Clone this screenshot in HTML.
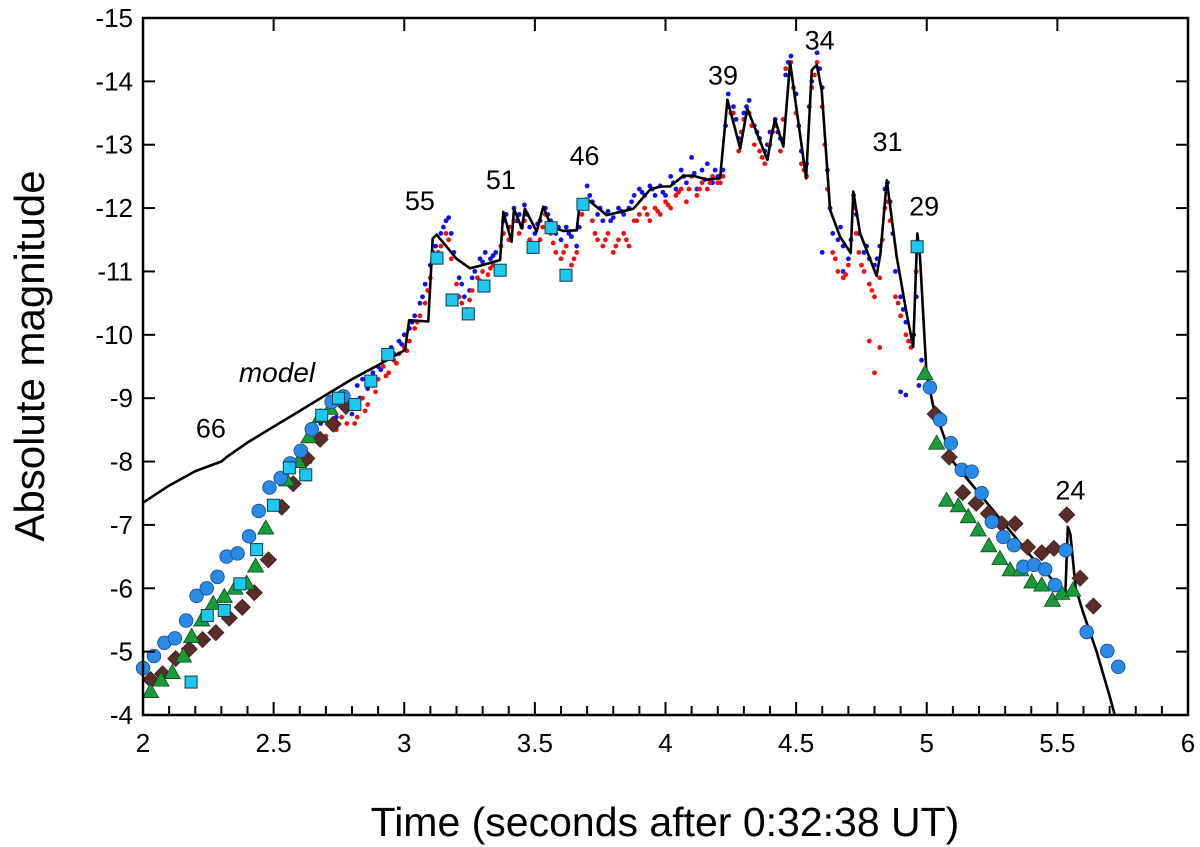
<!DOCTYPE html>
<html><head><meta charset="utf-8"><style>
body{margin:0;background:#fff}
svg{display:block;font-family:"Liberation Sans",sans-serif}
</style></head><body>
<svg id="chart" width="1200" height="847" viewBox="0 0 1200 847">
<g id="marks"></g>
<g id="axes"></g>
</svg>
<script>
const xTicks=[2,2.5,3,3.5,4,4.5,5,5.5,6];
const xTickLabels=["2","2.5","3","3.5","4","4.5","5","5.5","6"];
const yTicks=[-15,-14,-13,-12,-11,-10,-9,-8,-7,-6,-5,-4];
const yTickLabels=["-15","-14","-13","-12","-11","-10","-9","-8","-7","-6","-5","-4"];
const modelT=[2.0,2.1,2.2,2.3,2.32,2.4,2.5,2.6,2.7,2.8,2.9,3.003,3.019,3.092,3.109,3.124,3.162,3.2,3.252,3.3,3.367,3.379,3.411,3.42,3.45,3.462,3.507,3.532,3.564,3.609,3.66,3.673,3.698,3.775,3.877,3.941,3.979,4.017,4.068,4.106,4.158,4.209,4.237,4.286,4.313,4.39,4.406,4.419,4.451,4.477,4.538,4.56,4.579,4.598,4.63,4.668,4.709,4.719,4.745,4.808,4.823,4.847,4.885,4.923,4.948,4.964,4.974,4.999,5.025,5.1,5.2,5.3,5.4,5.5,5.53,5.54,5.55,5.57,5.6,5.65,5.7,5.72];
const modelM=[-7.35,-7.62,-7.85,-8.0,-8.07,-8.3,-8.55,-8.8,-9.05,-9.3,-9.52,-9.76,-10.23,-10.21,-11.52,-11.58,-11.39,-11.2,-11.05,-11.1,-11.18,-11.94,-11.47,-11.99,-11.68,-11.99,-11.63,-12.02,-11.7,-11.64,-11.65,-12.13,-12.15,-11.89,-11.99,-12.29,-12.34,-12.34,-12.51,-12.51,-12.45,-12.47,-13.71,-12.94,-13.57,-12.76,-13.15,-13.4,-12.97,-14.3,-12.47,-14.18,-14.26,-13.86,-11.97,-11.55,-11.29,-12.26,-11.6,-10.93,-11.29,-12.44,-11.23,-10.34,-9.81,-11.6,-11.23,-9.39,-8.87,-8.0,-7.5,-7.0,-6.5,-6.05,-5.85,-6.97,-6.85,-6.0,-5.6,-5.0,-4.3,-4.0];
const blueDots=[[2.68,-8.6],[2.72,-8.8],[2.74,-8.7],[2.77,-9.1],[2.79,-8.9],[2.8,-8.75],[2.82,-9.2],[2.84,-9.3],[2.86,-9.15],[2.88,-9.4],[2.9,-9.5],[2.92,-9.6],[2.94,-9.75],[2.96,-9.7],[2.98,-9.9],[3.0,-10.0],[3.02,-10.1],[3.04,-10.3],[3.06,-10.5],[3.08,-10.8],[3.1,-11.1],[3.12,-11.4],[3.14,-11.6],[3.16,-11.8],[3.17,-11.85],[3.19,-11.3],[3.21,-10.9],[3.23,-10.6],[3.25,-10.7],[3.27,-11.0],[3.29,-11.2],[3.31,-11.3],[3.33,-11.2],[3.35,-11.3],[3.38,-11.8],[3.4,-11.7],[3.42,-12.0],[3.44,-11.9],[3.46,-12.05],[3.48,-11.7],[3.5,-11.6],[3.52,-11.8],[3.54,-12.0],[3.56,-11.8],[3.58,-11.6],[3.6,-11.5],[3.62,-11.7],[3.64,-11.55],[3.66,-11.4],[3.68,-12.0],[3.7,-12.35],[3.72,-12.1],[3.74,-11.9],[3.76,-11.8],[3.78,-11.95],[3.8,-11.85],[3.82,-12.0],[3.84,-11.9],[3.86,-12.0],[3.88,-12.2],[3.9,-12.3],[3.92,-12.2],[3.94,-12.35],[3.96,-12.2],[3.98,-12.35],[4.0,-12.2],[4.02,-12.5],[4.04,-12.3],[4.06,-12.6],[4.08,-12.4],[4.1,-12.8],[4.12,-12.3],[4.14,-12.6],[4.16,-12.7],[4.18,-12.4],[4.2,-12.5],[4.22,-12.6],[4.24,-13.8],[4.26,-13.6],[4.28,-13.1],[4.3,-13.5],[4.32,-13.7],[4.34,-13.3],[4.36,-13.1],[4.38,-12.9],[4.4,-13.2],[4.42,-13.4],[4.44,-13.1],[4.46,-14.1],[4.48,-14.4],[4.5,-13.8],[4.52,-12.9],[4.54,-12.7],[4.56,-14.0],[4.58,-14.45],[4.6,-13.9],[4.62,-12.6],[4.64,-11.6],[4.66,-11.5],[4.68,-11.4],[4.7,-11.2],[4.72,-12.2],[4.74,-11.6],[4.76,-11.3],[4.78,-11.2],[4.8,-11.1],[4.82,-11.4],[4.84,-12.3],[4.86,-12.1],[4.88,-11.0],[4.9,-10.6],[4.92,-10.2],[4.94,-9.9],[4.96,-10.6],[4.97,-9.2],[4.98,-9.6],[4.9,-9.1],[4.92,-9.05],[4.68,-11.0],[4.6,-11.3],
[2.83,-9.0],[2.87,-9.3],[2.91,-9.45],[2.95,-9.8],[2.99,-9.85],[3.03,-10.2],[3.07,-10.6],[3.11,-11.3],[3.15,-11.7],[3.18,-11.6],[3.22,-10.8],[3.26,-10.9],[3.3,-11.15],[3.34,-11.25],[3.39,-11.9],[3.43,-11.8],[3.47,-11.9],[3.51,-11.75],[3.55,-11.9],[3.59,-11.7],[3.63,-11.6],[3.67,-11.7],[3.71,-12.2],[3.75,-12.0],[3.79,-11.8],[3.83,-11.95],[3.87,-12.1],[3.91,-12.25],[3.95,-12.3],[3.99,-12.25],[4.03,-12.4],[4.07,-12.5],[4.11,-12.55],[4.15,-12.45],[4.19,-12.6],[4.23,-13.3],[4.27,-13.4],[4.31,-13.6],[4.35,-13.2],[4.39,-13.0],[4.43,-13.2],[4.47,-14.3],[4.51,-13.3],[4.55,-13.6],[4.59,-14.2],[4.63,-12.0],[4.67,-11.7],[4.71,-11.5],[4.73,-11.9],[4.77,-11.4],[4.81,-11.2],[4.85,-12.4],[4.87,-11.6],[4.91,-10.4],[4.95,-10.0]];
const redDots=[[2.64,-8.0],[2.7,-8.4],[2.74,-8.5],[2.76,-8.7],[2.78,-8.6],[2.8,-8.9],[2.82,-8.7],[2.84,-9.0],[2.86,-8.9],[2.88,-9.2],[2.9,-9.3],[2.92,-9.5],[2.94,-9.4],[2.96,-9.6],[2.98,-9.7],[3.0,-9.8],[3.02,-9.9],[3.04,-10.1],[3.06,-10.3],[3.08,-10.5],[3.1,-10.9],[3.12,-11.2],[3.14,-11.4],[3.16,-11.6],[3.18,-11.2],[3.2,-10.8],[3.22,-10.5],[3.24,-10.4],[3.26,-10.7],[3.28,-10.9],[3.3,-11.0],[3.32,-10.95],[3.34,-11.1],[3.36,-11.0],[3.38,-11.6],[3.4,-11.5],[3.42,-11.8],[3.44,-11.6],[3.46,-11.8],[3.48,-11.5],[3.5,-11.4],[3.52,-11.5],[3.54,-11.9],[3.56,-11.6],[3.58,-11.3],[3.6,-11.2],[3.62,-11.4],[3.64,-11.1],[3.66,-11.3],[3.68,-11.9],[3.7,-12.1],[3.72,-11.8],[3.74,-11.5],[3.76,-11.4],[3.78,-11.6],[3.8,-11.3],[3.82,-11.5],[3.84,-11.6],[3.86,-11.4],[3.88,-11.8],[3.9,-11.9],[3.92,-12.0],[3.94,-11.8],[3.96,-12.0],[3.98,-11.9],[4.0,-12.1],[4.02,-12.0],[4.04,-12.2],[4.06,-12.3],[4.08,-12.1],[4.1,-12.5],[4.12,-12.2],[4.14,-12.4],[4.16,-12.3],[4.18,-12.5],[4.2,-12.4],[4.22,-12.5],[4.24,-13.6],[4.26,-13.5],[4.28,-12.9],[4.3,-13.4],[4.32,-13.5],[4.34,-13.0],[4.36,-12.9],[4.38,-12.7],[4.4,-13.0],[4.42,-13.3],[4.44,-12.9],[4.46,-14.2],[4.48,-14.3],[4.5,-13.5],[4.52,-12.7],[4.54,-12.5],[4.56,-13.9],[4.58,-14.3],[4.6,-13.6],[4.62,-12.3],[4.64,-11.3],[4.66,-11.0],[4.68,-10.9],[4.7,-11.1],[4.72,-12.0],[4.74,-11.3],[4.76,-11.0],[4.78,-10.8],[4.8,-10.6],[4.82,-10.9],[4.84,-12.0],[4.86,-11.8],[4.88,-10.6],[4.9,-10.3],[4.92,-10.0],[4.94,-9.8],[4.96,-11.0],[4.78,-9.9],[4.8,-9.4],[4.82,-9.8],
[2.81,-8.6],[2.85,-8.8],[2.89,-9.1],[2.93,-9.35],[2.97,-9.55],[3.01,-9.75],[3.05,-10.2],[3.09,-10.7],[3.13,-11.3],[3.17,-11.5],[3.21,-10.6],[3.25,-10.55],[3.29,-10.85],[3.33,-11.05],[3.37,-11.4],[3.41,-11.7],[3.45,-11.7],[3.49,-11.45],[3.53,-11.7],[3.57,-11.45],[3.61,-11.3],[3.65,-11.2],[3.69,-12.0],[3.73,-11.6],[3.77,-11.5],[3.81,-11.4],[3.85,-11.5],[3.89,-11.8],[3.93,-11.9],[3.97,-11.95],[4.01,-12.05],[4.05,-12.25],[4.09,-12.3],[4.13,-12.3],[4.17,-12.4],[4.21,-12.4],[4.25,-13.5],[4.29,-13.2],[4.33,-13.3],[4.37,-12.8],[4.41,-13.2],[4.45,-13.4],[4.49,-13.9],[4.53,-12.6],[4.57,-14.1],[4.61,-13.0],[4.65,-11.2],[4.69,-10.95],[4.73,-11.6],[4.75,-11.1],[4.79,-10.7],[4.83,-11.5],[4.85,-12.1],[4.89,-10.5],[4.93,-9.9]];
const circles=[[2.0,-4.74],[2.042,-4.93],[2.082,-5.14],[2.122,-5.21],[2.165,-5.49],[2.205,-5.88],[2.244,-6.0],[2.285,-6.18],[2.32,-6.5],[2.362,-6.55],[2.406,-6.82],[2.443,-7.22],[2.484,-7.59],[2.527,-7.74],[2.563,-7.97],[2.604,-8.17],[2.646,-8.51],[2.722,-8.94],[2.767,-9.03],[5.012,-9.17],[5.051,-8.66],[5.092,-8.29],[5.134,-7.87],[5.172,-7.84],[5.21,-7.5],[5.249,-7.05],[5.293,-6.81],[5.334,-6.68],[5.37,-6.34],[5.411,-6.37],[5.453,-6.3],[5.491,-6.05],[5.532,-6.6],[5.612,-5.31],[5.691,-5.01],[5.733,-4.76]];
const triangles=[[2.029,-4.37],[2.069,-4.55],[2.112,-4.67],[2.155,-4.93],[2.186,-5.24],[2.225,-5.5],[2.269,-5.76],[2.311,-5.87],[2.352,-6.0],[2.397,-6.08],[2.431,-6.35],[2.47,-6.95],[2.55,-7.71],[2.595,-8.0],[2.635,-8.39],[2.678,-8.71],[2.716,-8.84],[4.993,-9.39],[5.038,-8.29],[5.076,-7.39],[5.121,-7.3],[5.159,-7.13],[5.197,-6.92],[5.238,-6.67],[5.28,-6.47],[5.319,-6.29],[5.36,-6.29],[5.402,-6.1],[5.44,-6.05],[5.481,-5.81],[5.517,-5.92],[5.559,-5.97]];
const diamonds=[[2.029,-4.56],[2.075,-4.65],[2.125,-4.89],[2.177,-5.04],[2.228,-5.19],[2.279,-5.3],[2.33,-5.53],[2.38,-5.7],[2.426,-5.93],[2.48,-6.45],[2.531,-7.28],[2.575,-7.65],[2.627,-8.05],[2.678,-8.35],[2.728,-8.59],[2.777,-8.87],[5.032,-8.75],[5.086,-8.07],[5.138,-7.51],[5.189,-7.34],[5.236,-7.18],[5.287,-7.02],[5.338,-7.02],[5.386,-6.65],[5.44,-6.56],[5.487,-6.63],[5.536,-7.16],[5.587,-6.16],[5.638,-5.72]];
const squares=[[2.184,-4.52],[2.246,-5.57],[2.311,-5.65],[2.371,-6.07],[2.435,-6.61],[2.499,-7.31],[2.56,-7.9],[2.623,-7.79],[2.684,-8.73],[2.748,-9.0],[2.811,-8.9],[2.872,-9.27],[2.937,-9.69],[3.125,-11.21],[3.183,-10.55],[3.245,-10.33],[3.305,-10.77],[3.367,-11.02],[3.493,-11.38],[3.562,-11.69],[3.619,-10.94],[3.684,-12.06],[4.963,-11.39]];
const peakLabels=["66","55","51","46","39","34","31","29","24"];
const peakT=[2.26,3.06,3.37,3.69,4.22,4.59,4.85,4.99,5.55];
const peakM=[-8.38,-11.97,-12.3,-12.68,-13.95,-14.5,-12.9,-11.88,-7.4];

const NS="http://www.w3.org/2000/svg";
const L=143,R=1188,T=18,B=715;
const xs=t=>L+(t-2)/4*(R-L);
const ys=m=>T+(m+15)/11*(B-T);
const marks=document.getElementById('marks'), axes=document.getElementById('axes');
function mk(tag,attrs,parent){const e=document.createElementNS(NS,tag);for(const k in attrs)e.setAttribute(k,attrs[k]);parent.appendChild(e);return e;}

blueDots.forEach(p=>{const c=mk('circle',{cx:xs(p[0]),cy:ys(p[1]),r:2.4,fill:'#1010ee'},marks);

});
redDots.forEach(p=>{const c=mk('circle',{cx:xs(p[0]),cy:ys(p[1]),r:2.4,fill:'#ee1010'},marks);

});

const d=modelT.map((t,i)=>(i?'L':'M')+xs(t).toFixed(1)+' '+ys(modelM[i]).toFixed(1)).join(' ');
const ml=mk('path',{d:d,fill:'none',stroke:'#000','stroke-width':2.6,'stroke-linejoin':'round'},marks);



diamonds.forEach(p=>{const x=xs(p[0]),y=ys(p[1]);const e=mk('path',{d:`M${x} ${y-8}L${x+8} ${y}L${x} ${y+8}L${x-8} ${y}Z`,fill:'#5a2d2a',stroke:'#3a1d1a','stroke-width':0.8},marks);

});
triangles.forEach(p=>{const x=xs(p[0]),y=ys(p[1]);const e=mk('path',{d:`M${x} ${y-8}L${x+8} ${y+6}L${x-8} ${y+6}Z`,fill:'#1a9a3a',stroke:'#0a4a1a','stroke-width':0.8},marks);

});
circles.forEach(p=>{const e=mk('circle',{cx:xs(p[0]),cy:ys(p[1]),r:6.8,fill:'#2a8ae8',stroke:'#1a4a80','stroke-width':0.8},marks);

});
squares.forEach(p=>{const e=mk('rect',{x:xs(p[0])-6,y:ys(p[1])-6,width:12,height:12,fill:'#1cc8ee',stroke:'#0a3a4a','stroke-width':1},marks);

});

peakLabels.forEach((s,i)=>{const e=mk('text',{x:xs(peakT[i]),y:ys(peakM[i]),'font-size':27,'text-anchor':'middle'},marks);e.textContent=s;

});
const mt=mk('text',{x:277,y:382,'font-size':28,'font-style':'italic','text-anchor':'middle'},marks);mt.textContent='model';



const fr=mk('rect',{x:L,y:T,width:R-L,height:B-T,fill:'none',stroke:'#000','stroke-width':2.5},axes);


for(let k=0;k<=40;k++){const t=2+k*0.1,x=xs(t),len=(k%5===0)?13:9;
mk('line',{x1:x,y1:B,x2:x,y2:B-len,stroke:'#000','stroke-width':2},axes);
if(k%5===0)mk('line',{x1:x,y1:T,x2:x,y2:T+len,stroke:'#000','stroke-width':2},axes);}
xTicks.forEach((t,i)=>{const e=mk('text',{x:xs(t),y:B+37,'font-size':26,'text-anchor':'middle'},axes);e.textContent=xTickLabels[i];

});
yTicks.forEach((m,i)=>{const y=ys(m);
mk('line',{x1:L,y1:y,x2:L+12,y2:y,stroke:'#000','stroke-width':2},axes);
mk('line',{x1:R,y1:y,x2:R-12,y2:y,stroke:'#000','stroke-width':2},axes);
const e=mk('text',{x:L-10,y:y+9,'font-size':26,'text-anchor':'end'},axes);e.textContent=yTickLabels[i];

});
const xt=mk('text',{x:665,y:836,'font-size':41,'text-anchor':'middle'},axes);xt.textContent='Time (seconds after 0:32:38 UT)';


const yt=mk('text',{x:0,y:0,'font-size':42,'text-anchor':'middle',transform:'translate(44,356) rotate(-90)'},axes);yt.textContent='Absolute magnitude';


</script>
</body></html>
